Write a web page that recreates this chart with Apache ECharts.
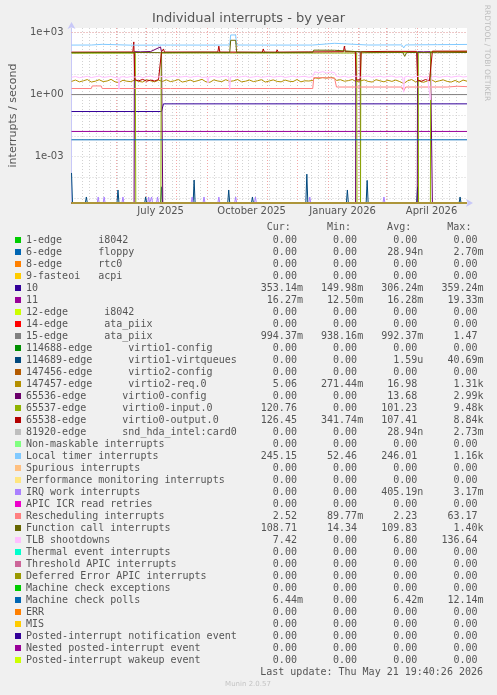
<!DOCTYPE html>
<html><head><meta charset="utf-8">
<script src="https://cdn.jsdelivr.net/npm/echarts@6/dist/echarts.min.js"></script>
<style>html,body{margin:0;padding:0;background:#F0F0F0;}#c{width:497px;height:695px;}</style>
</head><body><div id="c"></div>
<script>
// ---------- DATA ----------
const titleText = 'Individual interrupts - by year';
const yAxisName = 'interrupts / second';
const endTime = Date.UTC(2026, 4, 21, 19, 40, 26);
const spanDays = 400;
const lastUpdate = 'Last update: Thu May 21 19:40:26 2026';
const muninVersion = 'Munin 2.0.57';
const sideText = 'RRDTOOL / TOBI OETIKER';

// x tick labels (centered in month) and their dates
const xTickLabels = ['July 2025', 'October 2025', 'January 2026', 'April 2026'];
const xTickDates = [[2025, 6, 16], [2025, 9, 16], [2026, 0, 16], [2026, 3, 16]];
const monthStarts = [[2025,4],[2025,5],[2025,6],[2025,7],[2025,8],[2025,9],[2025,10],[2025,11],[2026,0],[2026,1],[2026,2],[2026,3],[2026,4]];
const firstWeekStart = [2025, 3, 21];
// y tick labels
const yTickValues = [1e-3, 1, 1e3];
const yTickLabels = ['1e-03', '1e+00', '1e+03'];
const yMin = 5.62e-6, yMax = 1652;

const seriesNames = [
  '1-edge      i8042', '6-edge      floppy', '8-edge      rtc0', '9-fasteoi   acpi', '10', '11',
  '12-edge      i8042', '14-edge      ata_piix', '15-edge      ata_piix',
  '114688-edge      virtio1-config', '114689-edge      virtio1-virtqueues', '147456-edge      virtio2-config',
  '147457-edge      virtio2-req.0', '65536-edge      virtio0-config', '65537-edge      virtio0-input.0',
  '65538-edge      virtio0-output.0', '81920-edge      snd_hda_intel:card0', 'Non-maskable interrupts',
  'Local timer interrupts', 'Spurious interrupts', 'Performance monitoring interrupts', 'IRQ work interrupts',
  'APIC ICR read retries', 'Rescheduling interrupts', 'Function call interrupts', 'TLB shootdowns',
  'Thermal event interrupts', 'Threshold APIC interrupts', 'Deferred Error APIC interrupts',
  'Machine check exceptions', 'Machine check polls', 'ERR', 'MIS', 'Posted-interrupt notification event',
  'Nested posted-interrupt event', 'Posted-interrupt wakeup event'
];
const curVals = ['0.00','0.00','0.00','0.00','353.14m','16.27m','0.00','0.00','994.37m','0.00','0.00','0.00','5.06','0.00','120.76','126.45','0.00','0.00','245.15','0.00','0.00','0.00','0.00','2.52','108.71','7.42','0.00','0.00','0.00','0.00','6.44m','0.00','0.00','0.00','0.00','0.00'];
const minVals = ['0.00','0.00','0.00','0.00','149.98m','12.50m','0.00','0.00','938.16m','0.00','0.00','0.00','271.44m','0.00','0.00','341.74m','0.00','0.00','52.46','0.00','0.00','0.00','0.00','89.77m','14.34','0.00','0.00','0.00','0.00','0.00','0.00','0.00','0.00','0.00','0.00','0.00'];
const avgVals = ['0.00','28.94n','0.00','0.00','306.24m','16.28m','0.00','0.00','992.37m','0.00','1.59u','0.00','16.98','13.68','101.23','107.41','28.94n','0.00','246.01','0.00','0.00','405.19n','0.00','2.23','109.83','6.80','0.00','0.00','0.00','0.00','6.42m','0.00','0.00','0.00','0.00','0.00'];
const maxVals = ['0.00','2.70m','0.00','0.00','359.24m','19.33m','0.00','0.00','1.47','0.00','40.69m','0.00','1.31k','2.99k','9.48k','8.84k','2.73m','0.00','1.16k','0.00','0.00','3.17m','0.00','63.17','1.40k','136.64','0.00','0.00','0.00','0.00','12.14m','0.00','0.00','0.00','0.00','0.00'];

// series values as [day offset from start, value] (zero = 0)
const zeroLine = [[0, 0], [400, 0]];
const irq10 = [[0, 0.15], [91, 0.15], [93, 0.353], [400, 0.353]];
const irq11 = [[0, 0.0163], [400, 0.0163]];
const ataPiix15 = [[0, 0.99], [400, 0.99]];
const virtio1Queues = [[0, 1.6e-4], [1, 0], [14, 0], [15, 1.1e-5], [16, 0], [46, 0], [47, 2.4e-5], [48, 0], [74, 0], [75, 1.1e-5], [76, 0],
  [90, 0], [91, 3.4e-5], [92, 0], [123, 0], [124, 7.3e-5], [125, 0], [158, 0], [159, 2.4e-5], [160, 0], [182, 0], [183, 1.1e-5], [184, 0],
  [237, 0], [238, 1.4e-4], [239, 0], [278, 0], [279, 2.4e-5], [280, 0], [298, 0], [299, 7e-5], [300, 0], [349, 0], [350, 3.4e-5], [351, 0],
  [392, 0], [393, 1.1e-5], [394, 0], [400, 0]];
const virtio2Req = [[0,4.3],[4,5.0],[8,4.1],[12,4.6],[16,5.3],[20,4.0],[24,4.4],[28,5.2],[32,4.2],[36,4.5],[40,5.4],[44,4.1],[48,3.8],[52,4.9],
  [56,4.4],[60,4.2],[64,5.0],[68,4.3],[72,4.0],[76,5.2],[80,4.6],[84,4.1],[88,4.9],[92,4.3],[96,5.1],[100,4.2],[104,4.6],[108,5.3],[112,4.0],
  [116,4.4],[120,5.0],[124,4.2],[128,4.7],[132,5.4],[136,4.1],[140,3.9],[144,5.1],[148,4.5],[152,4.2],[156,5.2],[160,4.3],[164,4.6],[168,5.3],
  [172,4.1],[176,4.4],[180,5.0],[184,4.2],[188,4.6],[192,5.2],[196,4.0],[200,4.5],[204,5.1],[208,4.3],[212,4.1],[216,5.0],[220,4.4],[224,4.2],
  [228,5.3],[232,4.1],[236,4.6],[240,4.5],[244,4.8],[246,6.4],[250,6.0],[254,6.6],[258,6.2],[262,6.8],[266,6.1],[268,4.8],[272,5.2],[276,4.4],
  [280,4.7],[284,5.3],[288,4.2],[292,4.5],[296,5.1],[300,4.3],[304,4.0],[308,5.2],[312,4.6],[316,4.1],[320,4.9],[324,4.3],[328,5.0],[332,4.2],
  [336,3.4],[340,4.6],[344,5.3],[348,4.1],[352,4.4],[356,3.9],[360,4.5],[364,5.2],[368,4.1],[372,4.6],[376,5.1],[380,4.3],[384,4.0],[388,4.8],
  [392,3.9],[396,5.0],[400,4.4]];
const virtio0Config = [[0,0],[63.3,0],[63.6,118],[70,116],[80,120],[90,200],[91,118],[92,118],[92.3,0],[287.3,0],[287.6,118],[292,118],[292.3,0],
  [349.7,0],[350,118],[356,116],[363,118],[364.7,118],[365,0],[400,0]];
const virtio0Input = [[0,100],[64.5,100],[65,0],[90.4,0],[90.7,102],[288.4,102],[288.7,0],[292.3,0],[292.6,104],[350.7,110],[351,0],[363,0],[363.3,118],[400,121]];
const virtio0Output = [[0,112],[62,114],[63,350],[64,5.2],[68,4.6],[72,5.4],[76,4.4],[80,5.0],[84,4.5],[88,5.3],[90,4.8],[91,115],[93,160],[94,113],
  [148,114],[149,220],[150,113],[193,112],[194,160],[195,113],[207,112],[208,145],[209,112],[240,115],[275,118],[276,220],[277,118],[287,118],
  [288,5],[290,4.6],[292,5.1],[293,118],[320,122],[349,122],[350,5.0],[354,4.4],[358,5.3],[362,4.6],[364,5],[365,125],[400,126]];
const localTimer = [[0,246],[20,248],[21,270],[31,268],[32,246],[60,244],[100,247],[140,246],[160,248],[161,760],[166,760],[167,248],[200,246],
  [244,247],[245,305],[266,300],[267,250],[300,248],[334,252],[336,180],[338,250],[370,258],[400,265]];
const irqWork = [[0,0],[26,0],[27,1.1e-5],[28,0],[32,0],[33,1.1e-5],[34,0],[51,0],[52,1.1e-5],[53,0],[77,0],[78,1.1e-5],[79,0],[80,0],[81,1.1e-5],[82,0],
  [86,0],[87,1.1e-5],[88,0],[121,0],[122,1.1e-5],[123,0],[133,0],[134,1.1e-5],[135,0],[148,0],[149,1.1e-5],[150,0],[165,0],[166,1.1e-5],[167,0],
  [185,0],[186,1.1e-5],[187,0],[240,0],[241,1.1e-5],[242,0],[315,0],[316,1.1e-5],[317,0],[400,0]];
const rescheduling = [[0,1.95],[20,1.95],[21,2.6],[30,2.6],[31,1.95],[100,1.95],[200,1.95],[244,1.95],[245,6.6],[266,6.3],[268,2.3],[334,2.3],
  [336,1.5],[338,2.3],[380,2.3],[390,2.5],[400,2.4]];
const functionCall = [[0,106],[30,108],[62,108],[90,106],[130,110],[160,108],[161,420],[166,420],[167,110],[200,108],[244,110],[245,140],[266,138],
  [267,112],[300,110],[335,110],[337,70],[339,108],[370,106],[400,108]];
const tlbShootdowns = [[0,6.8],[4,7.4],[8,6.5],[12,7.0],[16,7.6],[20,6.6],[24,7.2],[28,7.8],[32,6.7],[36,7.1],[40,7.5],[44,6.6],[47,6.8],[48,1.8],
  [49,6.9],[52,7.3],[56,6.7],[60,7.4],[64,6.9],[68,7.6],[72,6.6],[76,7.2],[80,7.7],[84,6.8],[88,7.1],[92,7.5],[96,6.7],[100,7.3],[104,7.8],
  [108,6.9],[112,7.2],[116,7.6],[120,6.8],[124,7.3],[128,7.7],[132,6.7],[137,7.0],[138,3.5],[139,7.1],[144,7.5],[148,6.8],[152,7.3],[156,7.6],
  [159,7.0],[160,1.7],[161,7.1],[164,7.4],[168,6.8],[172,7.3],[176,7.7],[180,6.7],[184,7.1],[188,7.6],[192,6.8],[196,7.2],[200,7.7],[204,6.9],
  [208,7.3],[212,7.6],[216,6.7],[220,7.2],[224,7.8],[228,6.9],[232,7.3],[236,7.6],[240,6.8],[244,7.4],[246,12.5],[250,11.2],[254,12.8],[258,11.0],
  [262,12.3],[266,11.5],[268,7.5],[272,7.0],[276,7.6],[280,6.8],[284,7.3],[288,7.7],[292,6.9],[296,7.4],[300,7.8],[304,6.8],[308,7.2],[312,7.6],
  [316,6.9],[320,7.4],[324,7.8],[328,6.8],[332,7.2],[335,7.0],[336,1.3],[337,7.1],[340,7.6],[344,6.8],[348,7.3],[352,7.7],[356,6.9],[360,7.3],
  [362,7.0],[363,0.55],[364,7.0],[368,7.5],[372,6.8],[376,7.3],[380,7.7],[384,6.9],[388,7.4],[392,7.8],[396,7.0],[400,7.4]];
const mcPolls = [[0, 0.00644], [400, 0.00644]];

const seriesData = [zeroLine, zeroLine, zeroLine, zeroLine, irq10, irq11, zeroLine, zeroLine, ataPiix15, zeroLine, virtio1Queues, zeroLine,
  virtio2Req, virtio0Config, virtio0Input, virtio0Output, zeroLine, zeroLine, localTimer, zeroLine, zeroLine, irqWork, zeroLine,
  rescheduling, functionCall, tlbShootdowns, zeroLine, zeroLine, zeroLine, zeroLine, mcPolls, zeroLine, zeroLine, zeroLine, zeroLine, zeroLine];

// ---------- STYLE ----------
const palette = ['#00CC00','#0066B3','#FF8000','#FFCC00','#330099','#990099','#CCFF00','#FF0000','#808080','#008F00','#00487D','#B35A00',
  '#B38F00','#6B006B','#8FB300','#B30000','#BEBEBE','#80FF80','#80C9FF','#FFC080','#FFE680','#AA80FF','#EE00CC','#FF8080','#666600',
  '#FFBFFF','#00FFCC','#CC6699','#999900','#00CC00','#0066B3','#FF8000','#FFCC00','#330099','#990099','#CCFF00'];
const TXT = '#555555';
const MONO = 'DejaVu Sans Mono';
const SANS = 'DejaVu Sans';

// ---------- BUILD ----------
const DAY = 86400000;
const startTime = endTime - spanDays * DAY;
const toTime = d => startTime + d * DAY;
const xLabelTimes = xTickDates.map(a => Date.UTC(a[0], a[1], a[2]));
const monthTimes = monthStarts.map(a => Date.UTC(a[0], a[1], 1));
const weekTimes = [];
for (let t = Date.UTC(firstWeekStart[0], firstWeekStart[1], firstWeekStart[2]); t < endTime; t += 7 * DAY) weekTimes.push(t);

function fmtField(v) { const s = /[a-zA-Z]$/.test(v) ? v : v + ' '; return s.padStart(10, ' '); }
const rowText = {};
seriesNames.forEach((n, i) => {
  rowText[n] = n.padEnd(36, ' ') + fmtField(curVals[i]) + fmtField(minVals[i]) + fmtField(avgVals[i]) + fmtField(maxVals[i]);
});

const series = seriesNames.map((name, i) => ({
  name, type: 'line', xAxisIndex: 0, yAxisIndex: 0,
  data: seriesData[i].map(p => [toTime(p[0]), p[1] === 0 ? yMin : p[1]]),
  showSymbol: false, symbol: 'none', clip: false, animation: false, silent: true,
  color: palette[i], lineStyle: { width: 1, color: palette[i] }, itemStyle: { color: palette[i] },
  emphasis: { disabled: true }
}));
series[0].markLine = {
  silent: true, symbol: 'none', z: 1, animation: false, label: { show: false },
  lineStyle: { color: '#F2A6A6', type: [1, 2], width: 1 },
  emphasis: { disabled: true },
  data: yTickValues.map(v => ({ yAxis: v }))
};

const chart = echarts.init(document.getElementById('c'), null, { renderer: 'canvas' });
chart.setOption({
  backgroundColor: '#F0F0F0',
  animation: false,
  grid: { left: 67, top: 28, width: 400, height: 175, show: true, backgroundColor: '#FFFFFF', borderWidth: 0 },
  xAxis: [{
    type: 'value', min: startTime, max: endTime, position: 'bottom',
    axisLine: { show: true, lineStyle: { color: '#C8C8F8' }, symbol: ['none', 'arrow'], symbolSize: [6, 7], symbolOffset: [0, 6] },
    axisTick: { show: false, customValues: weekTimes },
    axisLabel: { show: false },
    splitLine: { show: true, showMinLine: false, showMaxLine: false, lineStyle: { color: '#D2D2D2', type: [1, 2], width: 1 } }
  }, {
    type: 'value', min: startTime, max: endTime, position: 'bottom',
    axisLine: { show: false },
    axisTick: { show: false, customValues: monthTimes },
    axisLabel: {
      show: true, customValues: xLabelTimes, margin: 3, color: TXT, fontFamily: SANS, fontSize: 10,
      formatter: v => { const i = xLabelTimes.findIndex(t => Math.abs(t - v) < DAY); return i >= 0 ? xTickLabels[i] : ''; }
    },
    splitLine: { show: true, showMinLine: false, showMaxLine: false, lineStyle: { color: '#F2A6A6', type: [1, 2], width: 1 } }
  }],
  yAxis: [{
    type: 'log', logBase: 10, min: yMin, max: yMax,
    axisLine: { show: true, lineStyle: { color: '#C8C8F8' }, symbol: ['none', 'arrow'], symbolSize: [6, 7], symbolOffset: [0, 6] },
    axisTick: { show: false },
    axisLabel: {
      color: TXT, fontFamily: SANS, fontSize: 10, margin: 8,
      formatter: v => { const e = Math.log10(v); const i = yTickValues.findIndex(t => Math.abs(Math.log10(t) - e) < 1e-6); return i >= 0 ? yTickLabels[i] : ''; }
    },
    splitLine: { show: true, showMinLine: false, showMaxLine: false, lineStyle: { color: '#D2D2D2', type: [1, 2], width: 1 } },
    name: yAxisName, nameLocation: 'middle', nameGap: 52, nameRotate: 90,
    nameTextStyle: { color: TXT, fontFamily: SANS, fontSize: 11 }
  }],
  legend: {
    show: true, orient: 'vertical', left: 15, top: 234, padding: 0, itemGap: 0,
    itemWidth: 6, itemHeight: 6, icon: 'rect', selectedMode: false,
    data: seriesNames,
    formatter: n => rowText[n],
    textStyle: { fontFamily: MONO, fontSize: 10, color: TXT, lineHeight: 12 }
  },
  graphic: [
    { type: 'text', x: 248.5, y: 19, silent: true, style: { text: titleText, fill: TXT, font: '13px "DejaVu Sans"', align: 'center', verticalAlign: 'middle' } },
    { type: 'text', x: 266.7, y: 227, silent: true, style: { text: 'Cur:      Min:      Avg:      Max:', fill: TXT, font: '10px "DejaVu Sans Mono"', align: 'left', verticalAlign: 'middle' } },
    { type: 'text', x: 483, y: 672, silent: true, style: { text: lastUpdate, fill: TXT, font: '10px "DejaVu Sans Mono"', align: 'right', verticalAlign: 'middle' } },
    { type: 'text', x: 248, y: 684, silent: true, style: { text: muninVersion, fill: '#C4C4C4', font: '7px "DejaVu Sans"', align: 'center', verticalAlign: 'middle' } },
    { type: 'text', x: 487, y: 53, rotation: -Math.PI / 2, silent: true, style: { text: sideText, fill: '#BDBDBD', font: '7.5px "DejaVu Sans"', align: 'center', verticalAlign: 'middle' } }
  ],
  series
});
</script></body></html>
